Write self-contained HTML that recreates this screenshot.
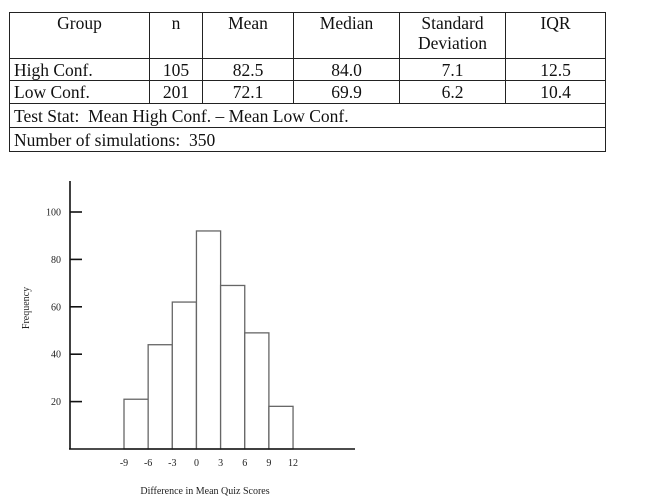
<!DOCTYPE html>
<html><head><meta charset="utf-8"><style>
body{margin:0;width:650px;height:501px;background:#fff;overflow:hidden;font-family:"Liberation Serif",serif;}
table{position:absolute;left:9px;top:12px;border-collapse:collapse;font-size:17.5px;color:#111;}
td{border:1.5px solid #222;padding:0 4px;text-align:center;line-height:20px;}
td.l{text-align:left}
</style></head><body>
<table>
<tr style="height:46px">
<td style="width:131px;vertical-align:top">Group</td><td style="width:44px;vertical-align:top">n</td><td style="width:82px;vertical-align:top">Mean</td><td style="width:97px;vertical-align:top">Median</td><td style="width:97px;vertical-align:top">Standard<br>Deviation</td><td style="width:91px;vertical-align:top">IQR</td></tr>
<tr style="height:22px"><td class="l">High Conf.</td><td>105</td><td>82.5</td><td>84.0</td><td>7.1</td><td>12.5</td></tr>
<tr style="height:23px"><td class="l">Low Conf.</td><td>201</td><td>72.1</td><td>69.9</td><td>6.2</td><td>10.4</td></tr>
<tr style="height:24px"><td class="l" colspan="6">Test Stat:&nbsp; Mean High Conf. – Mean Low Conf.</td></tr>
<tr style="height:24px"><td class="l" colspan="6">Number of simulations:&nbsp; 350</td></tr>
</table>
<svg id="chart" width="650" height="501" style="position:absolute;left:0;top:0"></svg>
<script>
const binEdges=[-9,-6,-3,0,3,6,9,12];
const frequencies=[21,44,62,92,69,49,18];
const yTicks=[20,40,60,80,100];
const xTicks=[-9,-6,-3,0,3,6,9,12];
const svg=document.getElementById('chart');
const NS='http://www.w3.org/2000/svg';
const xS=v=>124+(v+9)*8.05;
const yS=v=>449-v*2.37;
function mk(t,a,txt){const e=document.createElementNS(NS,t);for(const k in a)e.setAttribute(k,a[k]);if(txt!==undefined)e.textContent=txt;svg.appendChild(e);return e;}
for(let i=0;i<frequencies.length;i++){
 const r=mk('rect',{x:xS(binEdges[i]),y:yS(frequencies[i]),width:xS(binEdges[i+1])-xS(binEdges[i]),height:yS(0)-yS(frequencies[i]),fill:'#fff',stroke:'#666','stroke-width':1.3});
 
 
}
const ya=mk('line',{x1:70,y1:181,x2:70,y2:449,stroke:'#111','stroke-width':1.6});


const xa=mk('line',{x1:69,y1:449,x2:355,y2:449,stroke:'#111','stroke-width':1.6});


yTicks.forEach(v=>{
 const t=mk('line',{x1:70,y1:yS(v),x2:82,y2:yS(v),stroke:'#111','stroke-width':1.6});
 
 
 const l=mk('text',{x:61,y:yS(v)+3.5,'text-anchor':'end','font-size':10,fill:'#222','font-family':'Liberation Serif,serif'},v);
 
 
});
xTicks.forEach(v=>{
 const l=mk('text',{x:xS(v),y:466,'text-anchor':'middle','font-size':10,fill:'#222','font-family':'Liberation Serif,serif'},v);
 
 
});
const xt=mk('text',{x:205,y:494,'text-anchor':'middle','font-size':10,fill:'#222','font-family':'Liberation Serif,serif'},'Difference in Mean Quiz Scores');


const yt=mk('text',{x:0,y:0,'text-anchor':'middle','font-size':10,fill:'#222','font-family':'Liberation Serif,serif',transform:'translate(29,308) rotate(-90)'},'Frequency');


</script>
</body></html>
